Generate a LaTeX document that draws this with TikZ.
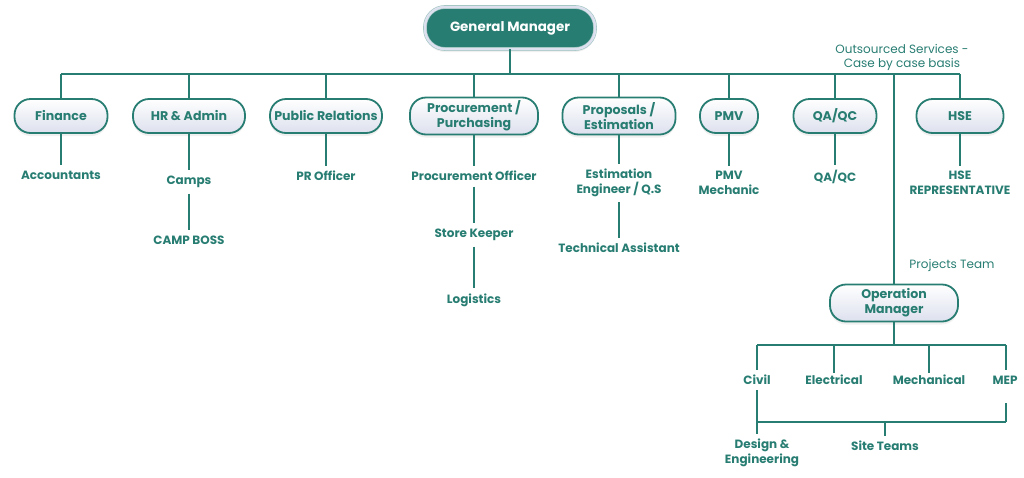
\documentclass[tikz,border=0pt]{standalone}
\usepackage{fontspec}
\setmainfont{Poppins}
\usepackage{tikz}
\usetikzlibrary{shadows}
\definecolor{gmteal}{HTML}{287D72}
\definecolor{gmlav}{HTML}{DDE0EE}

\begin{document}
\begin{tikzpicture}[x=1pt,y=-1pt,line width=1.3pt,
                    dept/.style={draw=gmteal,line width=1.8pt,top color=white,bottom color=gmlav,
                      rounded corners=16pt,minimum height=34pt,inner sep=0pt,align=center,
                      text=gmteal,font=\bfseries\fontsize{12.6}{15}\selectfont,
                      drop shadow={opacity=0.12,shadow xshift=0pt,shadow yshift=-3pt}},
                    role/.style={text=gmteal,align=center,inner sep=5pt,
                      font=\bfseries\fontsize{12}{14.5}\selectfont},
                    note/.style={text=gmteal,align=center,font=\fontsize{12}{14}\selectfont},
                    link/.style={draw=gmteal}]

  \useasboundingbox (0,0) rectangle (1024,477);

  \node[dept,fill=gmteal,top color=gmteal,bottom color=gmteal,text=white,draw=gmteal!45,
        double=gmlav,double distance=2.5pt,line width=0.6pt,rounded corners=20pt,
        minimum width=170pt,minimum height=42pt,font=\bfseries\fontsize{13.4}{15}\selectfont]
        (gm) at (510,28) {General Manager};

  \coordinate (top) at (0,74);

  \node[dept,minimum width=93pt] (fin) at (61,116) {Finance};
  \node[dept,minimum width=112pt] (hr) at (189,116) {HR \& Admin};
  \node[dept,minimum width=112pt] (pr) at (326,116) {Public Relations};
  \node[dept,minimum width=128pt,minimum height=37pt] (proc) at (474,116) {Procurement /\\Purchasing};
  \node[dept,minimum width=113pt,minimum height=37pt] (prop) at (619,116) {Proposals /\\Estimation};
  \node[dept,minimum width=58pt] (pmv) at (729,116) {PMV};
  \node[dept,minimum width=83pt] (qa) at (835,116) {QA/QC};
  \node[dept,minimum width=87pt] (hse) at (960,116) {HSE};

  \node[note] (out) at (902,57) {Outsourced Services -\\Case by case basis};

  \node[role] (acc) at (61,175) {Accountants};
  \node[role] (camps) at (189,182) {Camps};
  \node[role] (boss) at (189,240) {CAMP BOSS};
  \node[role] (pro) at (326,176) {PR Officer};
  \node[role] (po) at (474,176) {Procurement Officer};
  \node[role] (store) at (474,235) {Store Keeper};
  \node[role] (logi) at (474,300) {Logistics};
  \node[role] (est) at (619,183) {Estimation\\Engineer / Q.S};
  \node[role] (tech) at (619,248) {Technical Assistant};
  \node[role] (mech) at (729,183) {PMV\\Mechanic};
  \node[role] (qaqc) at (835,177) {QA/QC};
  \node[role] (rep) at (960,183) {HSE\\REPRESENTATIVE};

  \node[note] (proj) at (952,265) {Projects Team};
  \node[dept,minimum width=128pt,minimum height=37pt] (op) at (894,303) {Operation\\Manager};
  \coordinate (opbus) at (0,345);
  \coordinate (sitebus) at (0,422);

  \node[role] (civil) at (757,380) {Civil};
  \node[role] (elec) at (834,380) {Electrical};
  \node[role] (mecl) at (929,380) {Mechanical};
  \node[role] (mep) at (1005,380) {MEP};
  \node[role] (design) at (762,453) {Design \&\\Engineering};
  \node[role] (site) at (885,446) {Site Teams};

  \draw[link] (gm.south) -- (gm.south |- top);
  \draw[link] (fin.north |- top) -- (hse.north |- top);
  \foreach \d in {fin,hr,pr,proc,prop,pmv,qa,hse}
    \draw[link] (\d.north |- top) -- (\d.north);
  \draw[link] (894,74) -- (op.north);

  \draw[link] (fin) -- (acc);
  \draw[link] (hr) -- (camps);
  \draw[link] (camps) -- (boss);
  \draw[link] (pr) -- (pro);
  \draw[link] (proc) -- (po);
  \draw[link] (po) -- (store);
  \draw[link] (store) -- (logi);
  \draw[link] (prop) -- (est);
  \draw[link] (est) -- (tech);
  \draw[link] (pmv) -- (mech);
  \draw[link] (qa) -- (qaqc);
  \draw[link] (hse) -- (rep);

  \draw[link] (op.south) -- (op.south |- opbus);
  \draw[link] (civil.north |- opbus) -- (1006,345);
  \draw[link] (civil.north |- opbus) -- (civil.north);
  \draw[link] (elec.north |- opbus) -- ([yshift=-3pt]elec.north);
  \draw[link] (mecl.north |- opbus) -- ([yshift=-3pt]mecl.north);
  \draw[link] (1006,345) -- (1006,370);
  \draw[link] (civil.south) -- (civil.south |- design.north);
  \draw[link] (civil.south |- sitebus) -- (1006,422);
  \draw[link] (1006,403) -- (1006,422);
  \draw[link] (site.north |- sitebus) -- (site.north);
\end{tikzpicture}
\end{document}
